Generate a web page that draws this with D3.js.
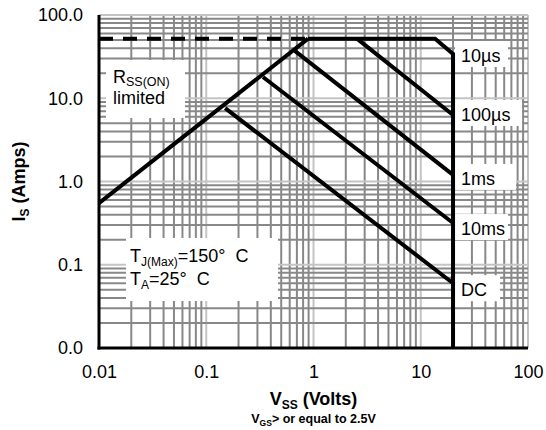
<!DOCTYPE html>
<html><head><meta charset="utf-8">
<script src="https://cdn.jsdelivr.net/npm/d3@7"></script>
<style>body{margin:0;background:#fff}svg{display:block}text{font-family:"Liberation Sans",Arial,sans-serif}</style>
</head><body><svg id="c" width="546" height="430"></svg>
<script>
// ---- data ----
const xTickValues = [0.01, 0.1, 1, 10, 100];
const xTickLabels = ["0.01", "0.1", "1", "10", "100"];
const yTickValues = [0.01, 0.1, 1, 10, 100];
const yTickLabels = ["0.0", "0.1", "1.0", "10.0", "100.0"];

const rdsLimitV = [0.01, 0.89];
const rdsLimitI = [0.55, 52];
const rdsDashV = [0.01, 0.89];
const rdsDashI = [52, 52];

const seriesNames = ["10µs", "100µs", "1ms", "10ms", "DC"];
const us10V = [0.89, 13.6, 20, 20];
const us10I = [52, 52, 34, 0.01];
const us100V = [2.54, 20];
const us100I = [52, 6.3];
const ms1V = [0.67, 20];
const ms1I = [37, 1.2];
const ms10V = [0.338, 20];
const ms10I = [18, 0.317];
const dcV = [0.150, 20];
const dcI = [7.6, 0.060];

// ---- layout ----
const svg = d3.select("#c");
const L = 99, R = 528, T = 15, B = 348;
const x = d3.scaleLog().domain([0.01, 100]).range([L, R]);
const y = d3.scaleLog().domain([0.01, 100]).range([B, T]);
svg.append("rect").attr("width", 546).attr("height", 430).attr("fill", "#fff");

// grid
const gridVals = [];
[0.01, 0.1, 1, 10].forEach(d => { for (let k = 1; k <= 9; k++) gridVals.push({v: d * k, major: k === 1}); });
gridVals.push({v: 100, major: true});
const g = svg.append("g");
g.selectAll("line.gx").data(gridVals).join("line")
  .attr("x1", d => x(d.v)).attr("x2", d => x(d.v)).attr("y1", T).attr("y2", B)
  .attr("stroke", d => d.major ? "#c4c4c4" : "#888").attr("stroke-width", 2);
g.selectAll("line.gy").data(gridVals).join("line")
  .attr("y1", d => y(d.v)).attr("y2", d => y(d.v)).attr("x1", L).attr("x2", R)
  .attr("stroke", d => d.major ? "#c4c4c4" : "#888").attr("stroke-width", 2);

// annotation boxes
svg.append("rect").attr("x", 106).attr("y", 60).attr("width", 79).attr("height", 58).attr("fill", "#fff");
svg.append("rect").attr("x", 126).attr("y", 238).attr("width", 152).attr("height", 63).attr("fill", "#fff");

// series
const series = [[us10V, us10I], [us100V, us100I], [ms1V, ms1I], [ms10V, ms10I], [dcV, dcI]];
const lineGen = d3.line().x(d => x(d[0])).y(d => y(d[1]));
const zipPts = (V, I) => V.map((v, i) => [v, I[i]]);

const boxW = [53, 67, 61, 53, 45];
const boxOff = [0, -2, 2, 4, 5];
series.forEach((s, i) => {
  const pts = zipPts(s[0], s[1]);
  const maxV = d3.max(s[0]);
  const anchor = pts.find(p => p[0] === maxV);
  const cy = y(anchor[1]) + boxOff[i];
  svg.append("rect").attr("x", x(maxV) + 2).attr("y", cy - 13).attr("width", boxW[i]).attr("height", 26).attr("fill", "#fff");
  svg.append("text").attr("x", x(maxV) + 8).attr("y", cy + 8).attr("font-size", 18).text(seriesNames[i]);
});
series.forEach(s => {
  svg.append("path").attr("d", lineGen(zipPts(s[0], s[1])))
    .attr("fill", "none").attr("stroke", "#000").attr("stroke-width", 4).attr("stroke-linejoin", "miter");
});
svg.append("path").attr("d", lineGen(zipPts(rdsLimitV, rdsLimitI)))
  .attr("fill", "none").attr("stroke", "#000").attr("stroke-width", 4);
svg.append("path").attr("d", lineGen(zipPts(rdsDashV, rdsDashI)))
  .attr("fill", "none").attr("stroke", "#000").attr("stroke-width", 4).attr("stroke-dasharray", "14,10");

// axes
const xa = svg.append("g").attr("transform", `translate(0,${B})`)
  .call(d3.axisBottom(x).tickValues(xTickValues).tickFormat((d, i) => xTickLabels[i]).tickSize(0).tickPadding(17));
const ya = svg.append("g").attr("transform", `translate(${L},0)`)
  .call(d3.axisLeft(y).tickValues(yTickValues).tickFormat((d, i) => yTickLabels[i]).tickSize(0).tickPadding(16));
[xa, ya].forEach(a => { a.select(".domain").remove(); a.selectAll("text").attr("font-size", 18).attr("fill", "#000").attr("font-family", '"Liberation Sans",Arial,sans-serif'); });
xa.selectAll("text").attr("dy", "0.71em");
svg.append("line").attr("x1", L).attr("x2", L).attr("y1", T).attr("y2", B + 1.5).attr("stroke", "#000").attr("stroke-width", 3);
svg.append("line").attr("x1", L - 1.5).attr("x2", R).attr("y1", B).attr("y2", B).attr("stroke", "#000").attr("stroke-width", 3);

// annotation texts
const t1 = svg.append("text").attr("x", 113).attr("y", 83).attr("font-size", 18);
t1.append("tspan").text("R");
t1.append("tspan").attr("font-size", 12.5).attr("dy", 3).text("SS(ON)");
svg.append("text").attr("x", 113).attr("y", 104).attr("font-size", 18).text("limited");

const t2 = svg.append("text").attr("x", 130).attr("y", 262).attr("font-size", 18);
t2.append("tspan").text("T");
t2.append("tspan").attr("font-size", 12).attr("dy", 4).text("J(Max)");
t2.append("tspan").attr("dy", -4).text("=150\u00B0\u00A0\u00A0C");
const t3 = svg.append("text").attr("x", 130).attr("y", 285).attr("font-size", 18);
t3.append("tspan").text("T");
t3.append("tspan").attr("font-size", 12).attr("dy", 4).text("A");
t3.append("tspan").attr("dy", -4).text("=25\u00B0\u00A0\u00A0C");

// axis titles
const xt = svg.append("text").attr("x", (L + R) / 2).attr("y", 405).attr("text-anchor", "middle").attr("font-size", 18).attr("font-weight", "bold");
xt.append("tspan").text("V");
xt.append("tspan").attr("font-size", 12).attr("dy", 4).text("SS");
xt.append("tspan").attr("dy", -4).text(" (Volts)");
const st = svg.append("text").attr("x", (L + R) / 2).attr("y", 423).attr("text-anchor", "middle").attr("font-size", 12.5).attr("font-weight", "bold");
st.append("tspan").text("V");
st.append("tspan").attr("font-size", 8.5).attr("dy", 3).text("GS");
st.append("tspan").attr("dy", -3).text("> or equal to 2.5V");
const yt = svg.append("text").attr("transform", `translate(25,${(T + B) / 2}) rotate(-90)`).attr("text-anchor", "middle").attr("font-size", 18).attr("font-weight", "bold");
yt.append("tspan").text("I");
yt.append("tspan").attr("font-size", 12).attr("dy", 4).text("S");
yt.append("tspan").attr("dy", -4).text(" (Amps)");
</script></body></html>
